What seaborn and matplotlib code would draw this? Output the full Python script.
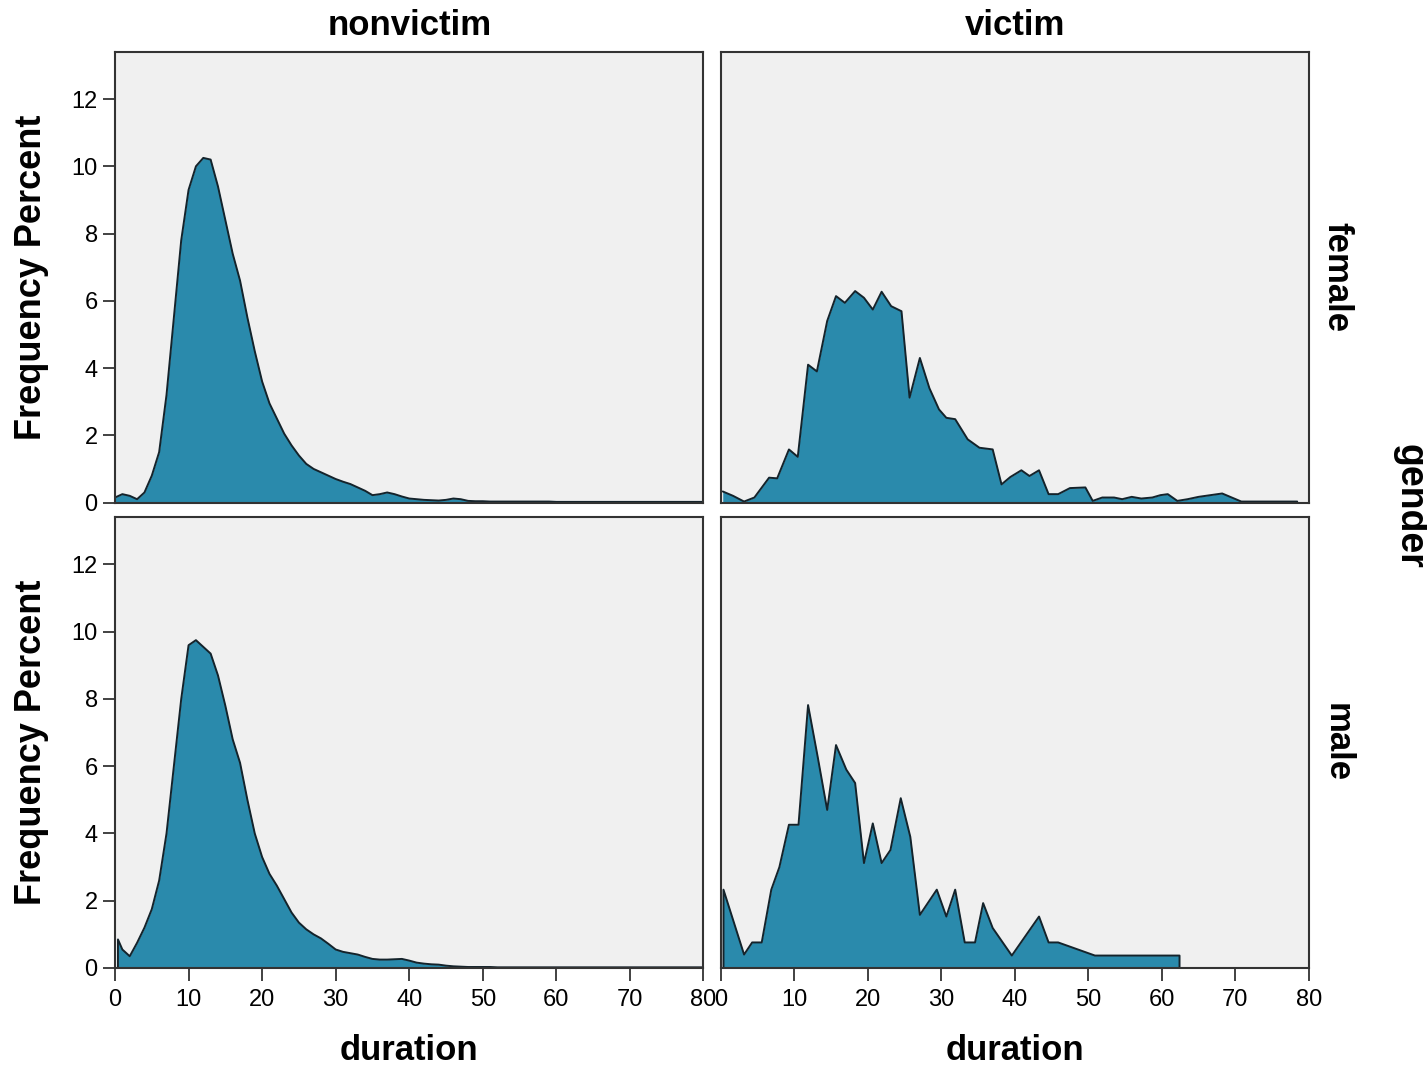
import numpy as np
import pandas as pd
import seaborn as sns
import matplotlib.pyplot as plt

# Frequency percent by duration
nv_female_x = list(range(0, 81))
nv_female_y = [0.15, 0.25, 0.2, 0.1, 0.3, 0.8, 1.5, 3.2, 5.5, 7.8,
               9.3, 10.0, 10.25, 10.2, 9.4, 8.4, 7.4, 6.6, 5.5, 4.5,
               3.6, 2.95, 2.5, 2.05, 1.7, 1.4, 1.15, 1.0, 0.9, 0.8,
               0.7, 0.62, 0.55, 0.45, 0.35, 0.22, 0.25, 0.3, 0.25, 0.18,
               0.12, 0.1, 0.08, 0.07, 0.06, 0.08, 0.12, 0.1, 0.05, 0.04,
               0.04, 0.03, 0.03, 0.03, 0.03, 0.03, 0.03, 0.03, 0.03, 0.03,
               0.02, 0.02, 0.02, 0.02, 0.02, 0.02, 0.02, 0.02, 0.02, 0.02,
               0.02, 0.02, 0.02, 0.02, 0.02, 0.02, 0.02, 0.02, 0.02, 0.02,
               0.02]

nv_male_x = [0.4, 0.4] + list(range(1, 81))
nv_male_y = [0.0, 0.85, 0.55, 0.35, 0.75, 1.2, 1.75, 2.6, 4.0, 6.0, 8.0,
             9.6, 9.75, 9.55, 9.35, 8.7, 7.8, 6.8, 6.1, 5.0, 4.0,
             3.3, 2.8, 2.45, 2.05, 1.65, 1.35, 1.15, 1.0, 0.88, 0.72,
             0.55, 0.48, 0.44, 0.4, 0.33, 0.27, 0.25, 0.25, 0.26, 0.27,
             0.22, 0.16, 0.13, 0.11, 0.1, 0.07, 0.05, 0.04, 0.03, 0.03,
             0.03, 0.03, 0.02, 0.02, 0.02, 0.02, 0.02, 0.02, 0.02, 0.02,
             0.02, 0.02, 0.02, 0.02, 0.02, 0.02, 0.02, 0.02, 0.02, 0.02,
             0.02, 0.02, 0.02, 0.02, 0.02, 0.02, 0.02, 0.02, 0.02, 0.02,
             0.02]

v_female_x = [0.3, 1.7, 3.2, 4.6, 6.6, 7.7, 9.3, 10.5, 11.9, 13.1,
              14.5, 15.7, 16.9, 18.3, 19.5, 20.7, 21.9, 23.2, 24.6, 25.7,
              27.1, 28.4, 29.7, 30.7, 31.9, 33.6, 35.2, 37.0, 38.2, 39.4,
              40.9, 42.0, 43.3, 44.6, 45.9, 47.5, 49.6, 50.6, 51.9, 53.5,
              54.6, 55.9, 57.2, 58.7, 59.8, 60.8, 62.1, 63.5, 65.0, 66.6,
              68.2, 69.5, 70.8, 78.4]
v_female_y = [0.33, 0.2, 0.03, 0.15, 0.74, 0.72, 1.58, 1.36, 4.1, 3.9,
              5.4, 6.14, 5.94, 6.29, 6.09, 5.74, 6.27, 5.84, 5.69, 3.12,
              4.3, 3.4, 2.77, 2.52, 2.48, 1.88, 1.63, 1.58, 0.54, 0.76,
              0.96, 0.79, 0.96, 0.25, 0.25, 0.43, 0.45, 0.05, 0.15, 0.15,
              0.1, 0.17, 0.12, 0.15, 0.22, 0.25, 0.05, 0.1, 0.17, 0.22,
              0.27, 0.15, 0.03, 0.03]

v_male_x = [0.4, 0.4, 3.2, 4.3, 5.6, 6.9, 8.0, 9.3, 10.6, 11.9,
            13.2, 14.5, 15.7, 17.1, 18.3, 19.5, 20.7, 21.9, 23.1, 24.5,
            25.8, 27.1, 29.4, 30.7, 31.9, 33.2, 34.6, 35.7, 37.0, 39.6,
            43.3, 44.6, 45.9, 50.9, 62.4, 62.4]
v_male_y = [0.0, 2.33, 0.4, 0.76, 0.76, 2.33, 3.0, 4.26, 4.26, 7.82,
            6.29, 4.7, 6.63, 5.9, 5.5, 3.12, 4.3, 3.12, 3.51, 5.05,
            3.9, 1.58, 2.33, 1.53, 2.33, 0.76, 0.76, 1.93, 1.19, 0.37,
            1.53, 0.76, 0.76, 0.37, 0.37, 0.0]

statuses = ["nonvictim", "victim"]
genders = ["female", "male"]

frames = []
for status, gender, xs, ys in [
    ("nonvictim", "female", nv_female_x, nv_female_y),
    ("nonvictim", "male", nv_male_x, nv_male_y),
    ("victim", "female", v_female_x, v_female_y),
    ("victim", "male", v_male_x, v_male_y),
]:
    frames.append(pd.DataFrame({"duration": xs, "pct": ys,
                                "status": status, "gender": gender}))
df = pd.concat(frames, ignore_index=True)

FILL = "#2A8AAC"
EDGE = "#14232B"

sns.set_theme(style="ticks")
plt.rcParams["font.family"] = ["Liberation Sans", "DejaVu Sans"]
plt.rcParams["axes.titlepad"] = 12
plt.rcParams["text.color"] = "black"


def area(x, y, **kws):
    ax = plt.gca()
    ax.fill_between(x, y, color=FILL, lw=0)
    ax.plot(x, y, color=EDGE, lw=1.4)


g = sns.FacetGrid(df, row="gender", col="status", row_order=genders,
                  col_order=statuses, margin_titles=True, despine=False,
                  sharex=True, sharey=True, height=5, aspect=1.3)
g.map(area, "duration", "pct")

g.set(xlim=(0, 80), ylim=(0, 13.4), xticks=np.arange(0, 81, 10),
      yticks=np.arange(0, 13, 2))
g.set_titles(row_template="{row_name}", col_template="{col_name}",
             size=25, fontweight="bold", color="black")
g.set_axis_labels("duration", "Frequency Percent")

for (i, j), ax in np.ndenumerate(g.axes):
    ax.set_facecolor("#F0F0F0")
    for sp in ax.spines.values():
        sp.set_linewidth(1.5)
        sp.set_color("#333333")
    ax.tick_params(labelsize=17, length=9, width=1.3, color="#333333",
                   labelcolor="black")
    ax.tick_params(axis="x", pad=6)
    if i == 0:
        ax.tick_params(axis="x", length=0)
    if j == 1:
        ax.tick_params(axis="y", length=0)
    ax.xaxis.label.set_size(25)
    ax.xaxis.label.set_weight("bold")
    ax.xaxis.label.set_color("black")
    ax.yaxis.label.set_size(26)
    ax.yaxis.label.set_weight("bold")
    ax.yaxis.label.set_color("black")
    ax.xaxis.labelpad = 17
    ax.yaxis.labelpad = 16

g.figure.set_size_inches(14.27, 10.74)
g.figure.subplots_adjust(left=0.0806, right=0.9173, top=0.9516,
                         bottom=0.0987, wspace=0.029, hspace=0.033)
g.figure.text(0.988, 0.528, "gender", rotation=270, ha="center",
              va="center", fontsize=27, fontweight="bold", color="black")

g.figure.savefig("out.png", dpi=100)
